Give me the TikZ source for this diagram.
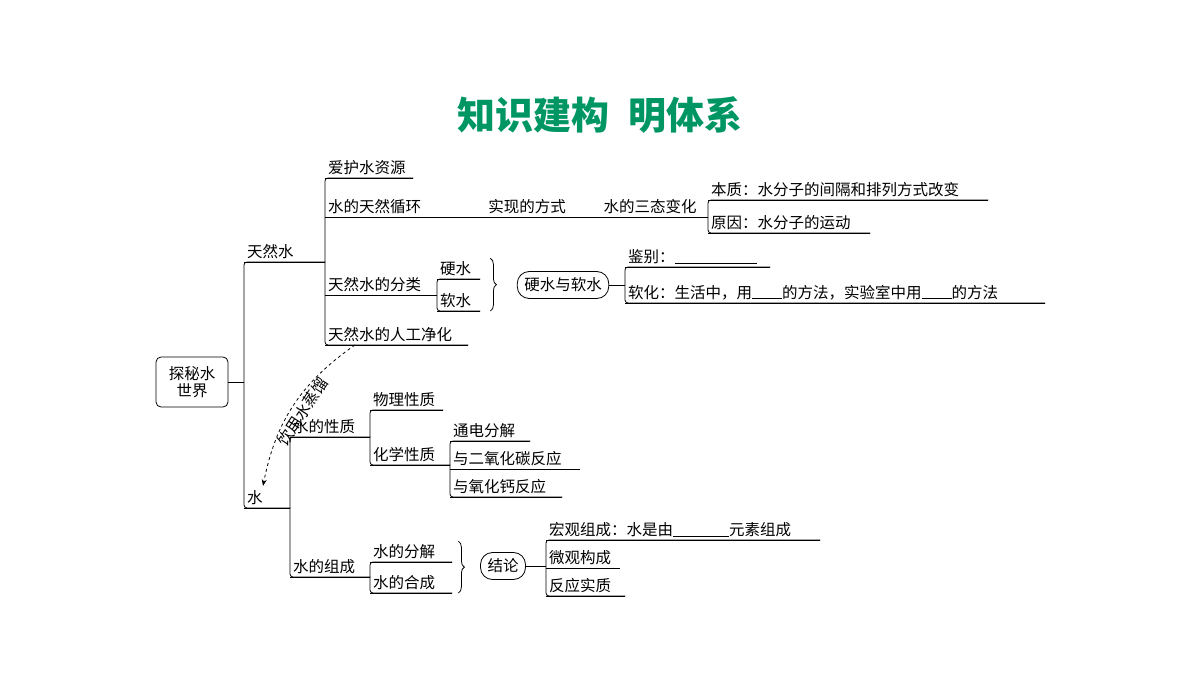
\documentclass[tikz,border=0pt]{standalone}
\usepackage{fontspec}
\setmainfont{Noto Sans CJK SC}
\usetikzlibrary{arrows.meta, decorations.pathreplacing}
\tikzset{
  item/.style={anchor=south west, inner xsep=3pt, inner ysep=3pt, align=left, font=\fontsize{15.5}{17}\selectfont},
  rootbox/.style={rectangle, rounded corners=5pt, draw, thick, align=center, minimum width=72pt, minimum height=50pt, font=\fontsize{15.5}{17}\selectfont},
  pill/.style={rectangle, rounded corners=12pt, draw, thick, minimum height=27pt, inner xsep=7pt, font=\fontsize{15.5}{17}\selectfont},
  plain/.style={anchor=south, inner sep=3pt, font=\fontsize{15.5}{17}\selectfont},
  branch/.style={thick, rounded corners=3pt},
  bracer/.style={thick, decorate, decoration={brace, amplitude=6pt}}
}
\newcommand{\blank}[1]{\rule[-1pt]{#1pt}{0.7pt}}

\begin{document}
\begin{tikzpicture}[x=1pt, y=-1pt]
\useasboundingbox (0,0) rectangle (1200,679);

% Title
\node[font=\fontsize{38}{40}\selectfont\bfseries, text={rgb,255:red,0;green,150;blue,100}] (title) at (600,115) {知识建构\hspace{0.5em}明体系};

% Root
\node[rootbox] (root) at (192,382) {探秘水\\世界};

% First level
\node[item, text width=75pt] (nat) at (244,262) {天然水};
\node[item, text width=40pt] (water) at (244,508) {水};

% Natural water
\node[item, text width=82pt] (care) at (325,178) {爱护水资源};
\node[item, text width=377pt] (cycle) at (325,217) {水的天然循环};
\node[plain] (way) at (527,217) {实现的方式};
\node[plain] (state) at (650,217) {水的三态变化};
\node[item, text width=106pt] (cls) at (325,295) {天然水的分类};
\node[item, text width=137pt] (pur) at (325,345) {天然水的人工净化};

\node[item, text width=274pt] (ess) at (708,200) {本质：水分子的间隔和排列方式改变};
\node[item, text width=156pt] (why) at (708,233) {原因：水分子的运动};

\node[item, text width=37pt] (hard) at (437,279) {硬水};
\node[item, text width=37pt] (soft) at (437,311) {软水};
\node[pill] (hs) at (563,285) {硬水与软水};
\node[item, text width=139pt] (ident) at (625,267) {鉴别：\blank{82}};
\node[item, text width=414pt] (softn) at (625,303) {软化：生活中，用\blank{30}的方法，实验室中用\blank{30}的方法};

% Water
\node[item, text width=74pt] (prop) at (290,437) {水的性质};
\node[item, text width=74pt] (comp) at (290,577) {水的组成};
\node[item, text width=67pt] (phys) at (370,410) {物理性质};
\node[item, text width=74pt] (chem) at (370,465) {化学性质};
\node[item, text width=74pt] (elec) at (450,441) {通电分解};
\node[item, text width=124pt] (co2) at (450,469) {与二氧化碳反应};
\node[item, text width=106pt] (cao) at (450,497) {与氧化钙反应};
\node[item, text width=76pt] (dec) at (370,562) {水的分解};
\node[item, text width=76pt] (syn) at (370,593) {水的合成};
\node[pill] (conc) at (503,566) {结论};
\node[item, text width=268pt] (macro) at (546,540) {宏观组成：水是由\blank{56}元素组成};
\node[item, text width=68pt] (micro) at (546,568) {微观构成};
\node[item, text width=73pt] (react) at (546,596) {反应实质};

% Underlines
\foreach \n in {nat,water,care,cycle,cls,pur,ess,why,hard,soft,ident,softn,prop,comp,phys,chem,elec,co2,cao,dec,syn,macro,micro,react}
  \draw[thick] (\n.south west) -- (\n.south east);

% Branches
\draw[thick] (root.east) -- (root.east -| nat.south west);
\draw[branch] (nat.south east) -- (nat.south west) -- (water.south west) -- (water.south east);
\draw[branch] (care.south east) -- (care.south west) -- (pur.south west) -- (pur.south east);
\draw[branch] (ess.south east) -- (ess.south west) -- (why.south west) -- (why.south east);
\draw[branch] (hard.south east) -- (hard.south west) -- (soft.south west) -- (soft.south east);
\draw[branch] (ident.south east) -- (ident.south west) -- (softn.south west) -- (softn.south east);
\draw[thick] (hs.east) -- (hs.east -| ident.south west);
\draw[branch] (prop.south east) -- (prop.south west) -- (comp.south west) -- (comp.south east);
\draw[branch] (phys.south east) -- (phys.south west) -- (chem.south west) -- (chem.south east);
\draw[branch] (elec.south east) -- (elec.south west) -- (cao.south west) -- (cao.south east);
\draw[branch] (dec.south east) -- (dec.south west) -- (syn.south west) -- (syn.south east);
\draw[branch] (macro.south east) -- (macro.south west) -- (react.south west) -- (react.south east);
\draw[thick] (conc.east) -- (conc.east -| macro.south west);

% Braces
\draw[bracer] ([xshift=10pt]hard.north east) -- ([xshift=10pt]soft.south east);
\draw[bracer] ([xshift=6pt]dec.north east) -- ([xshift=6pt]syn.south east);

% Distillation arrow
\draw[thick, dashed, -{Stealth}] ([xshift=30pt]pur.south west) to[bend right=22]
  node[midway, sloped, below, font=\fontsize{15.5}{17}\selectfont] (dist) {饮用水蒸馏} ([xshift=19pt, yshift=22pt]water.south west);

\end{tikzpicture}
\end{document}
